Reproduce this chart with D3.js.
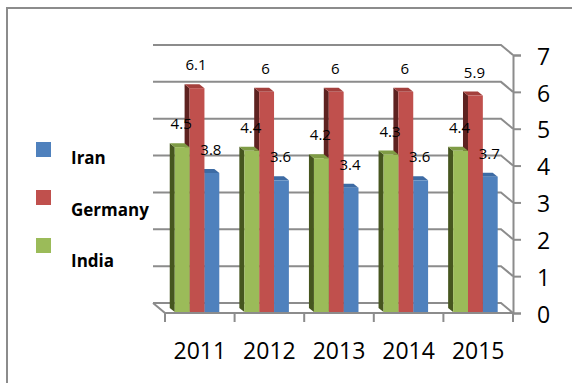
<!DOCTYPE html>
<html>
<head>
<meta charset="utf-8">
<script src="https://cdn.jsdelivr.net/npm/d3@7"></script>
<style>
  body { margin: 0; background: #fff; }
  svg { display: block; font-family: "Open Sans", sans-serif; }
</style>
</head>
<body>
<svg id="chart" width="572" height="383"></svg>
<script>
// chart data
var years = ["2011", "2012", "2013", "2014", "2015"];
var iran = [3.8, 3.6, 3.4, 3.6, 3.7];
var germany = [6.1, 6, 6, 6, 5.9];
var india = [4.5, 4.4, 4.2, 4.3, 4.4];
var yTicks = [0, 1, 2, 3, 4, 5, 6, 7];

var series = [
  {name: "India", values: india, front: "#9bbb59", side: "#46561f", top: "#7f9c45"},
  {name: "Germany", values: germany, front: "#c0504d", side: "#5e2220", top: "#a4403d"},
  {name: "Iran", values: iran, front: "#4f81bd", side: "#2b4d78", top: "#3d6ba4"}
];
var legendOrder = ["Iran", "Germany", "India"];

var svg = d3.select("#chart");
var grey = "#8c8c8c";

// back wall offset (depth of the plot box)
var wallDx = -12, wallDy = -10;
// bar depth
var barDx = -5, barDy = -4;

var x0 = d3.scaleBand().domain(years).range([165, 513]);
var x1 = d3.scaleBand().domain(series.map(function(s) { return s.name; }))
    .range([x0.bandwidth() * 0.14, x0.bandwidth() * 0.78]);
var y = d3.scaleLinear().domain([0, 7]).range([313, 55]);

// outer frame
svg.append("path")
    .attr("d", "M7,383 V8 H572")
    .attr("fill", "none").attr("stroke", grey).attr("stroke-width", 2);

// gridlines on back wall + diagonal to front axis
var grid = svg.append("g");
yTicks.forEach(function(t) {
  var yf = y(t);
  grid.append("path")
      .attr("d", "M" + (165 + wallDx) + "," + (yf + wallDy) +
        " H" + (513 + wallDx) + " L513," + yf)
      .attr("fill", "none").attr("stroke", grey).attr("stroke-width", 2);
});

// floor: left diagonal + front edge
svg.append("path")
    .attr("d", "M" + (165 + wallDx) + "," + (y(0) + wallDy) + " L165," + y(0) + " H513")
    .attr("fill", "none").attr("stroke", grey).attr("stroke-width", 2);

// right value axis
var yAxis = d3.axisRight(y).tickValues(yTicks).tickFormat(d3.format("d"))
    .tickSize(8).tickPadding(16);
var ya = svg.append("g")
    .attr("transform", "translate(513,0)")
    .call(yAxis);
ya.select(".domain").attr("stroke", grey).attr("stroke-width", 2);
ya.selectAll(".tick line").attr("stroke", grey).attr("stroke-width", 2);
ya.selectAll(".tick text")
    .attr("font-family", "Open Sans, sans-serif")
    .attr("font-size", 23).attr("fill", "#000").attr("dy", "0.4em");

// category axis
var xAxis = d3.axisBottom(x0).tickSize(0).tickPadding(30);
var xa = svg.append("g")
    .attr("transform", "translate(0," + y(0) + ")")
    .call(xAxis);
xa.select(".domain").remove();
xa.selectAll(".tick text")
    .attr("font-family", "Open Sans, sans-serif")
    .attr("font-size", 23).attr("fill", "#000");

// category tick marks at band edges
var edges = years.map(function(d) { return x0(d); }).concat([513]);
svg.append("g").selectAll("line")
    .data(edges)
    .join("line")
    .attr("x1", function(d) { return d; }).attr("x2", function(d) { return d; })
    .attr("y1", y(0)).attr("y2", y(0) + 9)
    .attr("stroke", grey).attr("stroke-width", 2);

// bars, drawn right to left inside each cluster so side faces stay hidden
var bars = svg.append("g");
years.forEach(function(yr, i) {
  series.slice().reverse().forEach(function(s) {
    var xa0 = x0(yr) + x1(s.name);
    var xb = xa0 + x1.bandwidth();
    var yt = y(s.values[i]);
    var yb = y(0) - 1;
    var g = bars.append("g");
    g.append("polygon")
        .attr("points", [[xa0, yb], [xa0, yt], [xa0 + barDx, yt + barDy], [xa0 + barDx, yb + barDy]].join(" "))
        .attr("fill", s.side);
    g.append("polygon")
        .attr("points", [[xa0, yt], [xb, yt], [xb + barDx, yt + barDy], [xa0 + barDx, yt + barDy]].join(" "))
        .attr("fill", s.top);
    g.append("rect")
        .attr("x", xa0).attr("y", yt)
        .attr("width", x1.bandwidth()).attr("height", yb - yt)
        .attr("fill", s.front);
  });
});

// value labels
var labels = svg.append("g")
    .attr("font-family", "Open Sans, sans-serif")
    .attr("font-size", 15).attr("fill", "#000").attr("text-anchor", "middle");
years.forEach(function(yr, i) {
  series.forEach(function(s) {
    labels.append("text")
        .attr("x", x0(yr) + x1(s.name) + x1.bandwidth() / 2 - 1)
        .attr("y", y(s.values[i]) - 18)
        .text(s.values[i]);
  });
});

// legend
var legend = svg.append("g");
legendOrder.forEach(function(name, i) {
  var s = series.find(function(d) { return d.name === name; });
  legend.append("rect")
      .attr("x", 36).attr("y", 142 + i * 48)
      .attr("width", 15).attr("height", 15)
      .attr("fill", s.front);
  legend.append("text")
      .attr("x", 71).attr("y", 164 + i * 51.5)
      .attr("font-family", "Open Sans, sans-serif")
      .attr("font-size", 17).attr("font-weight", "bold")
      .attr("fill", "#000")
      .text(name);
});
</script>
</body>
</html>
